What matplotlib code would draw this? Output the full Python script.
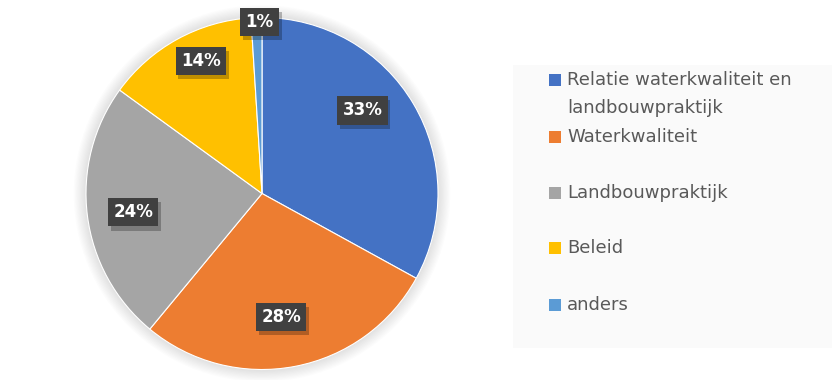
import numpy as np
import matplotlib
matplotlib.use("Agg")
import matplotlib.pyplot as plt
from matplotlib.patches import Rectangle, Circle
import matplotlib.patheffects as pe

plt.rcParams['font.family'] = ['DejaVu Sans']

# ---------------------- Data ----------------------
categories = ['Relatie waterkwaliteit en\nlandbouwpraktijk', 'Waterkwaliteit',
              'Landbouwpraktijk', 'Beleid', 'anders']
shares = [33, 28, 24, 14, 1]
colors = ['#4472C4', '#ED7D31', '#A5A5A5', '#FFC000', '#5B9BD5']

# label placement (fraction of radius, angle tweak in degrees) - mimics Excel best fit
label_dist = [0.74, 0.71, 0.74, 0.83, 0.975]
label_turn = [9, -2, 1, -4, -1]

# ---------------------- Figure ----------------------
W, H = 840, 380
fig = plt.figure(figsize=(W / 100, H / 100), dpi=100)

cx, cy, r = 262, 193.5, 176
lim = 1.12
half = r * lim
ax = fig.add_axes([(cx - half) / W, (H - cy - half) / H, 2 * half / W, 2 * half / H])

wedges, _ = ax.pie(shares, colors=colors, startangle=90, counterclock=False,
                   radius=1.0, wedgeprops=dict(edgecolor='white', linewidth=0.8))
for w in wedges:
    w.set_zorder(2)

ax.set_xlim(-lim, lim)
ax.set_ylim(-lim, lim)
ax.set_aspect('equal')
ax.axis('off')

# soft glow around the pie
for k in range(10):
    ax.add_patch(Circle((0, 0), 1.0 + 0.007 * (k + 1), color='#000000',
                        alpha=0.012, lw=0, zorder=0))

for w, val, d, t in zip(wedges, shares, label_dist, label_turn):
    ang = np.deg2rad((w.theta1 + w.theta2) / 2 + t)
    txt = ax.text(d * np.cos(ang), d * np.sin(ang), f'{val}%', ha='center', va='center',
                  color='white', fontsize=12, fontweight='bold', zorder=5,
                  bbox=dict(boxstyle='square,pad=0.32', fc='#404040', ec='none'))
    txt.get_bbox_patch().set_path_effects([
        pe.SimplePatchShadow(offset=(2, -3), shadow_rgbFace='black', alpha=0.25),
        pe.Normal()])

# ---------------------- Legend ----------------------
fig.patches.append(Rectangle((513 / W, 1 - 348 / H), (832 - 513) / W, (348 - 65) / H,
                             transform=fig.transFigure, fc='#FAFAFA', ec='none', zorder=0))

legend_y = [80, 137, 193, 248, 305]
line_gap = 28
for lab, col, y in zip(categories, colors, legend_y):
    fig.patches.append(Rectangle((549 / W, 1 - (y + 6) / H), 12 / W, 12 / H,
                                 transform=fig.transFigure, fc=col, ec='none', zorder=2))
    for i, line in enumerate(lab.split('\n')):
        fig.text(567 / W, 1 - (y + i * line_gap) / H, line, ha='left', va='center',
                 fontsize=13, color='#595959')

fig.savefig('out.png', dpi=100)
